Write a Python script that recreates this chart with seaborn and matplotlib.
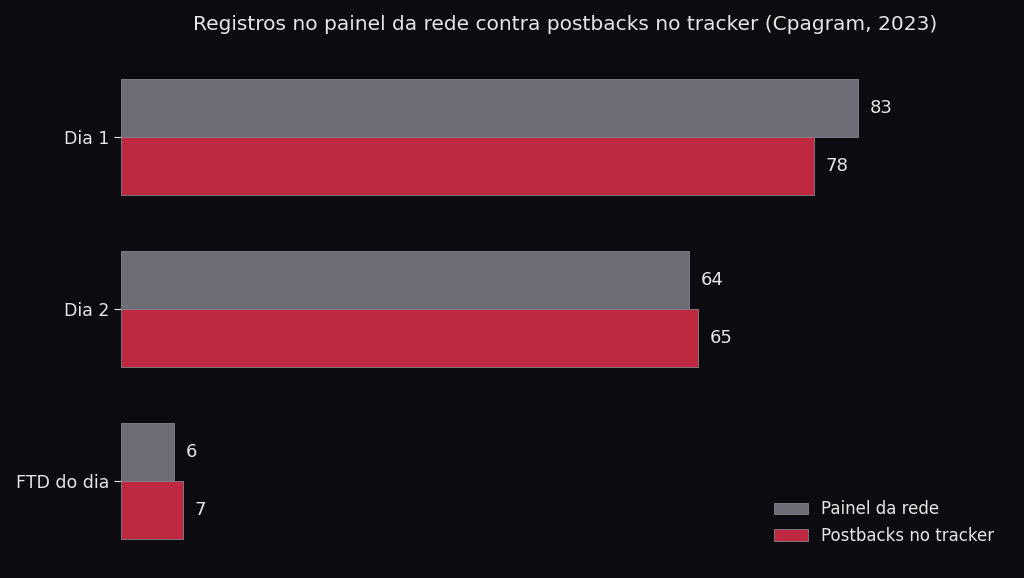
import pandas as pd
import matplotlib.pyplot as plt
import seaborn as sns

categorias = ['Dia 1', 'Dia 2', 'FTD do dia']
painel = [83, 64, 6]
tracker = [78, 65, 7]
series = ['Painel da rede', 'Postbacks no tracker']

df = pd.DataFrame({
    'categoria': categorias * 2,
    'valor': painel + tracker,
    'serie': [series[0]] * 3 + [series[1]] * 3,
})

bg = '#0c0b10'
sns.set_style('dark')
plt.rcParams['font.family'] = ['DejaVu Sans']
fig = plt.figure(figsize=(10.24, 5.78), dpi=100, facecolor=bg)
ax = fig.add_axes([121 / 1024, 1 - 550 / 578, 888 / 1024, 482 / 578])
ax.set_facecolor(bg)

sns.barplot(data=df, y='categoria', x='valor', hue='serie', orient='h',
            palette=['#6f6e78', '#be2841'], saturation=1, width=0.675, ax=ax,
            edgecolor='#85848c', linewidth=0.6)

for cont in ax.containers:
    for bar in cont:
        w = bar.get_width()
        ax.text(w + 1.3, bar.get_y() + bar.get_height() / 2, f'{int(w)}',
                va='center', ha='left', color='#e6e6e6', fontsize=13)

ax.set_xlim(0, 100)
ax.set_ylim(2.4, -0.4)
ax.set_xticks([])
ax.set_xlabel('')
ax.set_ylabel('')
ax.tick_params(axis='y', colors='#e6e6e6', labelsize=12.5, length=5, left=True)
for s in ax.spines.values():
    s.set_visible(False)
ax.grid(False)

leg = ax.legend(loc='lower right', frameon=False, fontsize=12,
                bbox_to_anchor=(1.0, -0.02))
for t in leg.get_texts():
    t.set_color('#e6e6e6')

fig.text(0.552, 0.958, 'Registros no painel da rede contra postbacks no tracker (Cpagram, 2023)',
         ha='center', va='center', color='#e6e6e6', fontsize=14.5)

fig.savefig('out.png', dpi=100, facecolor=bg)
